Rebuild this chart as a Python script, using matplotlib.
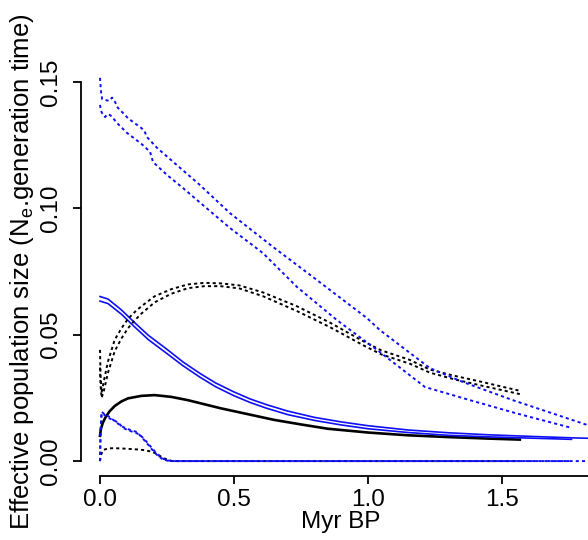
import matplotlib
matplotlib.use("Agg")
import matplotlib.pyplot as plt

plt.rcParams['font.family'] = ['Liberation Sans', 'DejaVu Sans']

# ---- data (Myr BP vs Ne * generation time) ----
black_solid_x = [0, 0.003, 0.01, 0.02, 0.035, 0.055, 0.08, 0.104, 0.154, 0.204, 0.266, 0.328,
                 0.45, 0.55, 0.65, 0.75, 0.85, 1.0, 1.15, 1.3, 1.45, 1.567]
black_solid_y = [0.010, 0.0125, 0.0150, 0.0172, 0.0196, 0.0218, 0.0236, 0.0248, 0.0258, 0.0261,
                 0.0254, 0.0241, 0.0209, 0.0186, 0.0163, 0.0145, 0.0128, 0.0113, 0.0102, 0.0095,
                 0.0089, 0.0085]

blue_solid_x = [0, 0.03, 0.08, 0.124, 0.18, 0.249, 0.31, 0.373, 0.43, 0.497, 0.56, 0.622,
                0.7, 0.8, 0.9, 1.0, 1.15, 1.3, 1.45, 1.6, 1.76, 1.9]
blue_solid_a = [0.0651, 0.0641, 0.0598, 0.0553, 0.0498, 0.0443, 0.0392, 0.0347, 0.0310, 0.0275,
                0.0246, 0.0223, 0.0198, 0.0173, 0.0155, 0.0140, 0.0123, 0.0112, 0.0104, 0.0098,
                0.0092, 0.0088]
blue_solid_b = [0.0633, 0.0623, 0.0581, 0.0536, 0.0481, 0.0426, 0.0377, 0.0332, 0.0295, 0.0260,
                0.0232, 0.0209, 0.0184, 0.0161, 0.0143, 0.0128, 0.0113, 0.0102, 0.0096, 0.0091,
                0.0086]

arch_x = [0, 0.002, 0.006, 0.015, 0.03, 0.055, 0.08, 0.104, 0.13, 0.154, 0.204, 0.266, 0.328,
          0.39, 0.45, 0.52, 0.609, 0.734, 0.858, 0.983, 1.05, 1.157, 1.231, 1.32, 1.418, 1.567]
arch_a = [0.044, 0.034, 0.027, 0.032, 0.0395, 0.048, 0.0525, 0.0562, 0.0590, 0.0612, 0.0652,
          0.0680, 0.0699, 0.0705, 0.0703, 0.0695, 0.0667, 0.0613, 0.0548, 0.0474, 0.0438,
          0.0400, 0.0362, 0.0338, 0.0315, 0.0278]
arch_b = [0.037, 0.030, 0.025, 0.028, 0.0350, 0.0435, 0.0485, 0.0525, 0.0557, 0.0583, 0.0628,
          0.0662, 0.0684, 0.0692, 0.0692, 0.0683, 0.0652, 0.0594, 0.0530, 0.0458, 0.0422,
          0.0385, 0.0350, 0.0324, 0.0300, 0.0265]

lin_a_x = [0, 0.004, 0.008, 0.02, 0.035, 0.045, 0.05, 0.056, 0.067, 0.085, 0.104, 0.125, 0.149,
           0.165, 0.175, 0.213, 0.287, 0.373, 0.485, 0.646, 0.795, 0.996, 1.045, 1.231, 1.354,
           1.541, 1.821, 1.9]
lin_a_y = [0.1516, 0.146, 0.1432, 0.1428, 0.1425, 0.1438, 0.1430, 0.1421, 0.1397, 0.1378,
           0.1357, 0.1340, 0.1322, 0.1308, 0.1282, 0.1239, 0.1171, 0.1092, 0.0981, 0.0847,
           0.0728, 0.0566, 0.0518, 0.0368, 0.0313, 0.0241, 0.0142, 0.0115]
lin_b_x = [0, 0.004, 0.01, 0.019, 0.028, 0.037, 0.045, 0.063, 0.101, 0.13, 0.160, 0.187, 0.198,
           0.25, 0.31, 0.384, 0.485, 0.608, 0.735, 0.884, 1.045, 1.213, 1.381, 1.55, 1.761]
lin_b_y = [0.1409, 0.1385, 0.1372, 0.1361, 0.1372, 0.1369, 0.1362, 0.1338, 0.1298, 0.1275,
           0.1250, 0.1223, 0.1183, 0.1132, 0.1080, 0.1013, 0.0922, 0.0823, 0.0689, 0.0558,
           0.0431, 0.0293, 0.0241, 0.0190, 0.0131]

small_blue_x = [0, 0.002, 0.006, 0.012, 0.025, 0.037, 0.055, 0.07, 0.086, 0.11, 0.138, 0.155,
                0.175, 0.195, 0.213, 0.23, 0.25, 0.27, 1.9]
small_blue_a = [0, 0.012, 0.0195, 0.0190, 0.0180, 0.0174, 0.0158, 0.0146, 0.0135, 0.0124,
                0.0115, 0.0095, 0.0071, 0.0045, 0.0024, 0.0010, 0.0002, 0.0, 0.0]
small_blue_b = [0, 0.011, 0.0188, 0.0186, 0.0176, 0.0168, 0.0160, 0.0150, 0.0131, 0.0120,
                0.0110, 0.0098, 0.0075, 0.0050, 0.0028, 0.0012, 0.0003, 0.0, 0.0]
small_blue_b_end = 1.761

small_black_x = [0, 0.004, 0.012, 0.03, 0.05, 0.08, 0.11, 0.14, 0.16, 0.19, 0.21, 0.23, 0.25,
                 0.27, 1.567]
small_black_y = [0, 0.0025, 0.0044, 0.0050, 0.0051, 0.0050, 0.0048, 0.0046, 0.0044, 0.0038,
                 0.0030, 0.0016, 0.0006, 0.0, 0.0]

x_ticks = [0.0, 0.5, 1.0, 1.5]
x_labels = ['0.0', '0.5', '1.0', '1.5']
y_ticks = [0.00, 0.05, 0.10, 0.15]
y_labels = ['0.00', '0.05', '0.10', '0.15']

BLUE = '#0f0ff5'
dash = (0, (1.6, 1.6))

fig = plt.figure(figsize=(5.88, 5.40), dpi=100)
ax = fig.add_axes([81 / 588, 64 / 540, 520 / 588, 408 / 540])

# Black solid
ax.plot(black_solid_x, black_solid_y, color='black', lw=1.9)
# Blue solid double
ax.plot(blue_solid_x, blue_solid_a, color=BLUE, lw=1.2)
ax.plot(blue_solid_x[:len(blue_solid_b)], blue_solid_b, color=BLUE, lw=1.2)
# Black dashed arch pair
ax.plot(arch_x, arch_a, color='black', lw=1.4, ls=dash)
ax.plot(arch_x, arch_b, color='black', lw=1.4, ls=dash)
# Blue dashed decreasing pair
ax.plot(lin_a_x, lin_a_y, color=BLUE, lw=1.4, ls=dash)
ax.plot(lin_b_x, lin_b_y, color=BLUE, lw=1.4, ls=dash)
# Lower small curves
ax.plot(small_black_x, small_black_y, color='black', lw=1.4, ls=dash)
ax.plot(small_blue_x, small_blue_a, color=BLUE, lw=1.4, ls=dash)
ax.plot(small_blue_x[:-1] + [small_blue_b_end], small_blue_b, color=BLUE, lw=1.4, ls=dash)

ax.set_xlim(-0.0709, 1.87)
ax.set_ylim(-0.0059, 0.1555)

for s in ['top', 'right']:
    ax.spines[s].set_visible(False)
ax.spines['left'].set_bounds(0, 0.15)
ax.spines['bottom'].set_bounds(0, 1.87)
ax.spines['left'].set_linewidth(1.3)
ax.spines['bottom'].set_linewidth(1.3)

ax.set_xticks(x_ticks)
ax.set_xticklabels(x_labels)
ax.set_yticks(y_ticks)
ax.set_yticklabels(y_labels, rotation=90, va='center')
ax.tick_params(axis='both', direction='out', length=6, width=1.3, labelsize=17.5)
ax.tick_params(axis='x', pad=3)
ax.tick_params(axis='y', pad=8)

ax.set_xlabel('Myr BP', fontsize=17.5, va='top')
ax.xaxis.set_label_coords(0.5, -0.085)
ax.set_ylabel('Effective population size (N$_\\mathregular{e}$.generation time)', fontsize=18.5)
ax.yaxis.set_label_coords(-0.0865, 0.5)

fig.savefig('out.png', dpi=100)
